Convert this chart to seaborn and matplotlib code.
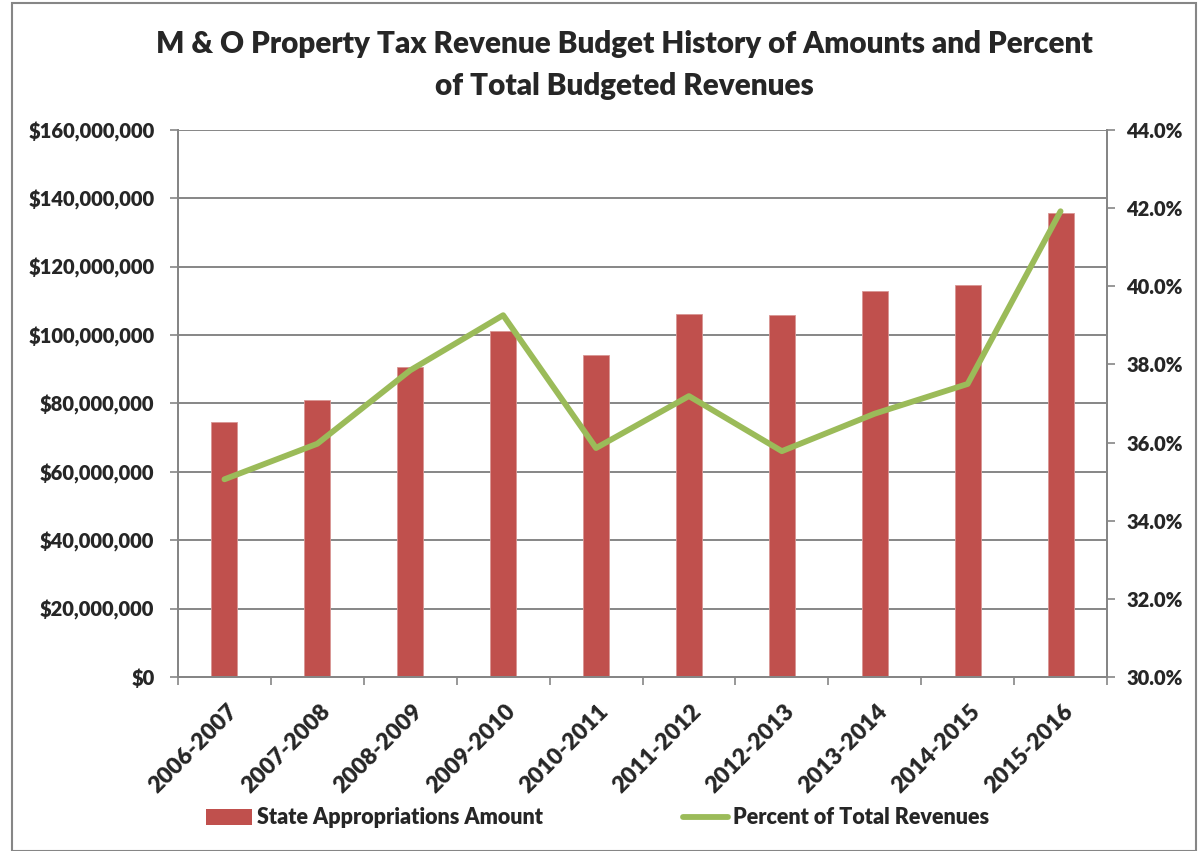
import numpy as np
import pandas as pd
import matplotlib
matplotlib.use("Agg")
import matplotlib.pyplot as plt
import seaborn as sns
from matplotlib.ticker import FuncFormatter, MultipleLocator
from matplotlib.patches import Rectangle, Patch
from matplotlib.lines import Line2D
import matplotlib.transforms as mtrans

years = ["2006-2007", "2007-2008", "2008-2009", "2009-2010", "2010-2011",
         "2011-2012", "2012-2013", "2013-2014", "2014-2015", "2015-2016"]
amounts = [74.7e6, 81.1e6, 90.8e6, 101.3e6, 94.3e6,
           106.2e6, 105.8e6, 112.8e6, 114.8e6, 135.7e6]
percents = [35.06, 35.97, 37.85, 39.26, 35.86,
            37.19, 35.78, 36.74, 37.50, 41.92]

title = "M & O Property Tax Revenue Budget History of Amounts and Percent\nof Total Budgeted Revenues"
bar_label = "State Appropriations Amount"
line_label = "Percent of Total Revenues"

bar_color = "#C0504D"
line_color = "#9BBB59"
grid_color = "#868686"
W = "heavy"

sns.set_theme(style="white")
plt.rcParams["font.family"] = ["Lato", "DejaVu Sans"]
plt.rcParams["font.weight"] = W

fig = plt.figure(figsize=(11.98, 8.51), dpi=100)
ax = fig.add_axes([178/1198, 1-677/851, (1107-178)/1198, (677-130)/851])

df = pd.DataFrame({"year": years, "amount": amounts, "pct": percents})
sns.barplot(data=df, x="year", y="amount", color=bar_color, width=0.28,
            saturation=1, ax=ax, edgecolor="#D99694", linewidth=0.6)

ax.set_ylim(0, 160e6)
ax.yaxis.set_major_locator(MultipleLocator(20e6))
ax.yaxis.set_major_formatter(FuncFormatter(lambda v, p: "${:,.0f}".format(v)))
ax.set_xlim(-0.5, len(years) - 0.5)
ax.set_xlabel("")
ax.set_ylabel("")
ax.grid(axis="y", color=grid_color, linewidth=1.4)
ax.set_axisbelow(True)

ax2 = ax.twinx()
sns.lineplot(x=np.arange(len(years)), y=df["pct"], color=line_color,
             linewidth=4.2, ax=ax2, sort=False)
ax2.set_ylim(30, 44)
ax2.yaxis.set_major_locator(MultipleLocator(2))
ax2.yaxis.set_major_formatter(FuncFormatter(lambda v, p: "{:.1f}%".format(v)))
ax2.set_ylabel("")

for a in (ax, ax2):
    for s in a.spines.values():
        s.set_color(grid_color)
        s.set_linewidth(1.4)
    a.spines["top"].set_visible(False)

ax.tick_params(axis="y", which="major", left=True, length=6, width=1.2,
               color=grid_color, labelsize=14.5, pad=11)
ax2.tick_params(axis="y", which="major", right=True, length=6, width=1.2,
                color=grid_color, labelsize=14.5, pad=8)

ax.set_xticks(np.arange(len(years)))
ax.set_xticklabels(years, rotation=45, ha="right", rotation_mode="anchor",
                   fontsize=16.5, fontweight=W)
ax.tick_params(axis="x", which="major", bottom=False, length=0, pad=17)
ax.set_xticks(np.arange(-0.5, len(years)), minor=True)
ax.tick_params(axis="x", which="minor", bottom=True, length=6, width=1.2,
               color=grid_color)
for lab in ax.get_xticklabels():
    lab.set_transform(lab.get_transform() + mtrans.ScaledTranslation(2/100, 0, fig.dpi_scale_trans))

for lab in ax.get_yticklabels() + ax2.get_yticklabels():
    lab.set_fontweight(W)

fig.text(624/1198, 1-65/851, title, ha="center", va="center", fontsize=21.3,
         fontweight=W, linespacing=1.6)

handles = [Patch(facecolor=bar_color, edgecolor="none"),
           Line2D([0], [0], color=line_color, linewidth=4.2)]
fig.legend(handles, [bar_label, line_label], loc="center",
           bbox_to_anchor=(598/1198, 1-818/851), ncol=2, frameon=False,
           columnspacing=6.5, handlelength=2.1, handletextpad=0.25,
           prop={"weight": W, "size": 15.5})

fig.patches.append(Rectangle((12/1198, 0), 1184/1198, 1-3/851,
                             transform=fig.transFigure, fill=False,
                             edgecolor=grid_color, linewidth=1.5))

fig.savefig("out.png", dpi=100)
